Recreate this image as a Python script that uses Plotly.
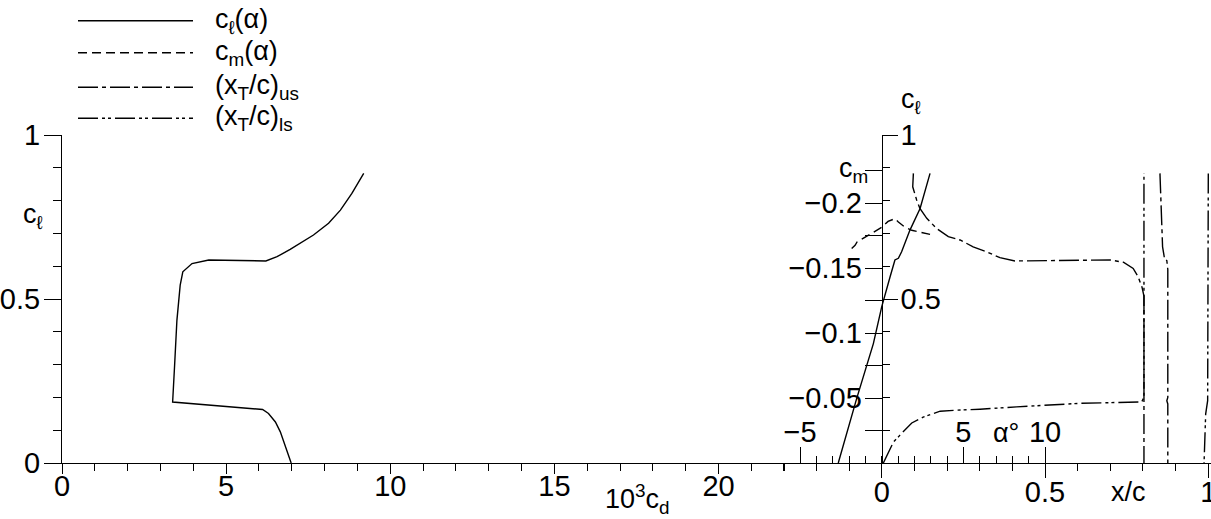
import plotly.graph_objects as go

# ---------------- data ----------------
# drag polar: 10^3 cd vs cl
cd_polar = [6.98, 6.83, 6.65, 6.50, 6.29, 6.11, 3.37, 3.43, 3.50, 3.60, 3.68, 3.96,
            4.47, 6.21, 6.55, 6.95, 7.31, 7.66, 8.12, 8.48, 8.83, 9.19]
cl_polar = [0.0, 0.044, 0.095, 0.125, 0.151, 0.163, 0.186, 0.298, 0.435, 0.542, 0.583, 0.608,
            0.619, 0.616, 0.629, 0.651, 0.674, 0.695, 0.731, 0.771, 0.822, 0.883]

# lift curve cl(alpha)
alpha_cl = [-2.66, -1.53, -0.51, 0.0, 0.51, 0.71, 0.81, 1.02, 1.22, 1.73, 2.35, 2.96]
cl_alpha = [0.0, 0.197, 0.364, 0.476, 0.567, 0.600, 0.619, 0.624, 0.644, 0.710, 0.776, 0.883]

# moment curve cm(alpha)
alpha_cm = [-1.84, -1.63, -1.51, -1.21, -0.72, 0.0, 0.39, 0.81, 1.02, 1.43, 1.84, 2.35, 2.96]
cm_alpha = [-0.165, -0.1675, -0.170, -0.1723, -0.1759, -0.1813, -0.1858, -0.1880, -0.1854,
            -0.1813, -0.1790, -0.1775, -0.1759]

# upper-surface transition (x_T/c)us vs cl
xt_us = [0.097, 0.095, 0.107, 0.117, 0.138, 0.168, 0.204, 0.240, 0.280, 0.321, 0.362, 0.408,
         0.699, 0.740, 0.770, 0.785, 0.797, 0.803, 0.803]
cl_us = [0.883, 0.842, 0.802, 0.776, 0.746, 0.715, 0.690, 0.680, 0.659, 0.644, 0.626, 0.616,
         0.619, 0.612, 0.593, 0.568, 0.536, 0.509, 0.0]
xt_us_aft = [0.852, 0.857, 0.860, 0.865, 0.865, 0.873, 0.876, 0.876, 0.873, 0.876, 0.876]
cl_us_aft = [0.883, 0.690, 0.659, 0.629, 0.622, 0.617, 0.590, 0.200, 0.190, 0.180, 0.0]

# lower-surface transition (x_T/c)ls vs cl
xt_ls = [0.005, 0.036, 0.056, 0.092, 0.127, 0.179, 0.230, 0.301, 0.413, 0.607, 0.796, 0.803, 0.803]
cl_ls = [0.0, 0.064, 0.085, 0.122, 0.140, 0.158, 0.161, 0.164, 0.171, 0.182, 0.186, 0.200, 0.883]
xt_ls_aft = [1.0, 1.0, 0.998, 0.992, 0.987]
cl_ls_aft = [0.883, 0.210, 0.190, 0.150, 0.0]

# axis ticks
cd_major = [0, 5, 10, 15, 20]
cd_minor = [v for v in range(1, 23) if v % 5]
cl_major = [0, 0.5, 1]
cl_minor = [0.1, 0.2, 0.3, 0.4, 0.6, 0.7, 0.8, 0.9]
alpha_major = [-5, 5, 10]
alpha_minor = [v for v in range(-4, 10) if v != 5]
xc_major = [0, 0.5, 1]
xc_minor = [round(0.1 * k, 1) for k in range(-3, 10) if k not in (0, 5)]
cm_major = [-0.05, -0.1, -0.15, -0.2]
cm_minor = [-0.025, -0.075, -0.125, -0.175, -0.225]
cl_right_major = [0.5, 1]

# ---------------- layout geometry ----------------
W, H = 1211, 519
L, R, T, B = 62, 0, 135, 56
PW, PH = W - L - R, H - T - B
X0_RIGHT = 881.7 - L          # pixel offset of right origin inside plot area
CD_PX = 32.83                 # px per unit 10^3 cd
XC_PX = 326.6                 # px per unit x/c
AL_PX = 16.33                 # px per degree
CM_PX = 1300.0                # px per unit cm


def px(x):
    return (x - L) / PW


def py(y):
    return (H - B - y) / PH


FONT = "Liberation Sans Narrow, Liberation Sans, Arial, sans-serif"
INK = "black"
LW = 1.4

DASH_CM = "9px,5px"
DASH_US = "20px,4px,4px,4px"
DASH_LS = "20px,4px,3px,3px,3px,4px"

fig = go.Figure()
fig.add_trace(go.Scatter(x=cd_polar, y=cl_polar, mode="lines", xaxis="x", yaxis="y",
                         line=dict(color=INK, width=LW), name="cd"))
fig.add_trace(go.Scatter(x=alpha_cl, y=cl_alpha, mode="lines", xaxis="x2", yaxis="y3",
                         line=dict(color=INK, width=LW), name="cl(α)"))
fig.add_trace(go.Scatter(x=alpha_cm, y=cm_alpha, mode="lines", xaxis="x2", yaxis="y2",
                         line=dict(color=INK, width=LW, dash=DASH_CM), name="cm(α)"))
fig.add_trace(go.Scatter(x=xt_us, y=cl_us, mode="lines", xaxis="x3", yaxis="y",
                         line=dict(color=INK, width=LW, dash=DASH_US), name="us"))
fig.add_trace(go.Scatter(x=xt_us_aft, y=cl_us_aft, mode="lines", xaxis="x3", yaxis="y",
                         line=dict(color=INK, width=LW, dash=DASH_US), name="us aft"))
fig.add_trace(go.Scatter(x=xt_ls, y=cl_ls, mode="lines", xaxis="x3", yaxis="y",
                         line=dict(color=INK, width=LW, dash=DASH_LS), name="ls"))
fig.add_trace(go.Scatter(x=xt_ls_aft, y=cl_ls_aft, mode="lines", xaxis="x3", yaxis="y",
                         line=dict(color=INK, width=LW, dash=DASH_LS), name="ls aft"))

tickfont = dict(family=FONT, size=29, color=INK)
common = dict(showgrid=False, zeroline=False, tickcolor=INK, tickwidth=1.2,
              tickfont=tickfont, linecolor=INK, linewidth=1.2, automargin=False)


def minor(vals, ln):
    return dict(tickmode="array", tickvals=vals, ticks="outside", ticklen=ln,
                tickcolor=INK, tickwidth=1.2)


fig.update_layout(
    width=W, height=H, margin=dict(l=L, r=R, t=T, b=B, pad=0, autoexpand=False),
    paper_bgcolor="white", plot_bgcolor="white", showlegend=False,
    font=dict(family=FONT, color=INK),
    xaxis=dict(range=[0, PW / CD_PX], showline=True, ticks="outside",
               tickmode="array", tickvals=cd_major, ticktext=[str(v) for v in cd_major],
               ticklen=10, ticklabelstandoff=-13, minor=minor(cd_minor, 7), **common),
    xaxis2=dict(range=[-X0_RIGHT / AL_PX, (PW - X0_RIGHT) / AL_PX], overlaying="x",
                anchor="free", position=0, side="top", showline=False, ticks="outside",
                tickmode="array", tickvals=alpha_major, ticktext=["\u22125", "5", "10"],
                ticklen=16, ticklabelstandoff=-7, minor=minor(alpha_minor, 7), **common),
    xaxis3=dict(range=[-X0_RIGHT / XC_PX, (PW - X0_RIGHT) / XC_PX], overlaying="x",
                anchor="free", position=0, side="bottom", showline=False, ticks="outside",
                tickmode="array", tickvals=xc_major, ticktext=["0", "0.5", "1"],
                ticklen=14, ticklabelstandoff=-11, ticklabeloverflow="allow",
                minor=minor(xc_minor, 7), **common),
    yaxis=dict(range=[0, 1], showline=True, ticks="outside", anchor="x", side="left",
               tickmode="array", tickvals=cl_major, ticktext=["0", "0.5", "1"],
               ticklen=17, ticklabelstandoff=-2, minor=minor(cl_minor, 8), **common),
    yaxis2=dict(range=[0, -PH / CM_PX], overlaying="y", anchor="free",
                position=X0_RIGHT / PW, side="left", showline=True, ticks="outside",
                tickmode="array", tickvals=cm_major,
                ticktext=["\u22120.05", "\u22120.1", "\u22120.15", "\u22120.2"],
                ticklen=17, ticklabelstandoff=-3, minor=minor(cm_minor, 17), **common),
    yaxis3=dict(range=[0, 1], overlaying="y", anchor="free", position=X0_RIGHT / PW,
                side="right", showline=False, ticks="outside",
                tickmode="array", tickvals=cl_right_major, ticktext=["0.5", "1"],
                ticklen=15, ticklabelstandoff=-3, minor=minor(cl_minor, 7), **common),
)

# ---------------- axis titles ----------------
title_font = dict(family=FONT, size=27, color=INK)
titles = [
    ("c<sub>\u2113</sub>", 33, 216),
    ("c<sub>\u2113</sub>", 911, 101),
    ("c<sub>m</sub>", 853, 170),
    ("10<sup>3</sup>c<sub>d</sub>", 637, 499),
    ("\u03b1\u00b0", 1006, 433),
    ("x/c", 1128, 492),
]
for txt, x, y in titles:
    fig.add_annotation(text=txt, x=px(x), y=py(y), xref="paper", yref="paper",
                       xanchor="center", yanchor="middle", showarrow=False, font=title_font)

# ---------------- legend (drawn manually: long line samples) ----------------
legend_rows = [
    ("c<sub>\u2113</sub>(\u03b1)", "solid", 20.7),
    ("c<sub>m</sub>(\u03b1)", DASH_CM, 52.7),
    ("(x<sub>T</sub>/c)<sub>us</sub>", DASH_US, 87.3),
    ("(x<sub>T</sub>/c)<sub>ls</sub>", DASH_LS, 118.3),
]
for txt, dash, y in legend_rows:
    fig.add_shape(type="line", xref="paper", yref="paper", x0=px(78), x1=px(193),
                  y0=py(y), y1=py(y), line=dict(color=INK, width=LW, dash=dash))
    fig.add_annotation(text=txt, x=px(213), y=py(y), xref="paper", yref="paper",
                       xanchor="left", yanchor="middle", showarrow=False,
                       font=dict(family=FONT, size=27, color=INK))

fig.write_html("out.html")
